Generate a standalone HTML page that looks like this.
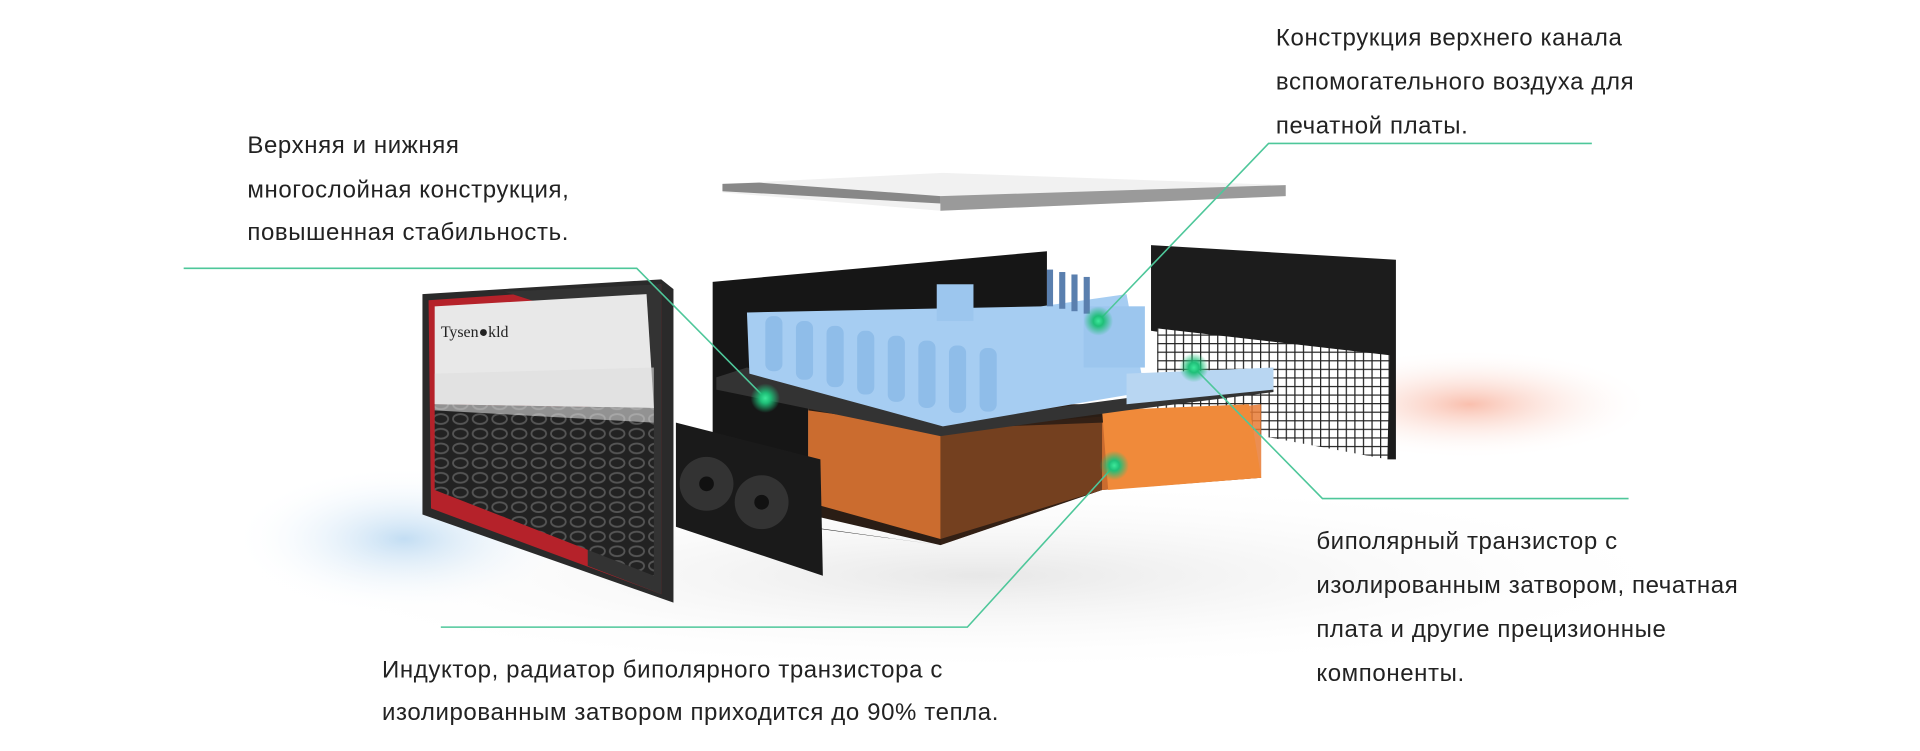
<!DOCTYPE html>
<html><head><meta charset="utf-8"><style>
html,body{margin:0;padding:0;background:#fff;}
svg{display:block}
text{font-family:"Liberation Sans","DejaVu Sans",sans-serif;font-size:19.6px;letter-spacing:.5px;fill:#222;}
</style></head><body>
<svg width="1920" height="751" viewBox="0 0 1568 613" xmlns="http://www.w3.org/2000/svg">
<defs>
<radialGradient id="sh" cx="50%" cy="50%" r="50%"><stop offset="0" stop-color="#ddd" stop-opacity=".7"/><stop offset="1" stop-color="#fff" stop-opacity="0"/></radialGradient>
<radialGradient id="red" cx="50%" cy="50%" r="50%"><stop offset="0" stop-color="#f7a38a" stop-opacity=".7"/><stop offset="1" stop-color="#fff" stop-opacity="0"/></radialGradient>
<radialGradient id="blue" cx="50%" cy="50%" r="50%"><stop offset="0" stop-color="#a9cfee" stop-opacity=".7"/><stop offset="1" stop-color="#fff" stop-opacity="0"/></radialGradient>
<radialGradient id="gl" cx="50%" cy="50%" r="50%"><stop offset="0" stop-color="#3de89a"/><stop offset=".35" stop-color="#1fbf78"/><stop offset="1" stop-color="#1fbf78" stop-opacity="0"/></radialGradient>
<pattern id="grid" width="7" height="7" patternUnits="userSpaceOnUse"><rect width="7" height="7" fill="#fff"/><path d="M0 0H7M0 0V7" stroke="#222" stroke-width="2"/></pattern>
<pattern id="hex" width="16" height="12" patternUnits="userSpaceOnUse"><rect width="16" height="12" fill="#222"/><ellipse cx="8" cy="6" rx="6" ry="4" fill="none" stroke="#555" stroke-width="1.5"/></pattern>
</defs>
<ellipse cx="800" cy="470" rx="600" ry="80" fill="url(#sh)"/>
<ellipse cx="1200" cy="330" rx="150" ry="45" fill="url(#red)"/>
<ellipse cx="330" cy="440" rx="140" ry="60" fill="url(#blue)"/>
<!-- lid -->
<polygon points="590,150 770,141 1050,151 1050,160 768,172 590,157" fill="#f1f1f1"/>
<polygon points="768,160 1050,151 1050,160 768,172" fill="#9a9a9a"/>
<polygon points="590,150 620,149 768,160 768,166 590,156" fill="#888"/>
<!-- back panel right -->
<polygon points="940,200 1140,212 1140,375 1133,375 1133,300 940,270" fill="#1c1c1c"/>
<polygon points="945,268 1135,290 1133,375 945,340" fill="url(#grid)"/>
<!-- main box -->
<polygon points="582,230 855,205 855,290 660,310 660,430 768,445 582,420" fill="#161616"/>
<polygon points="660,330 900,330 1030,390 900,400 768,445 660,420" fill="#2a1d15"/>
<polygon points="660,335 768,350 900,345 1030,330 1030,390 900,400 768,440 660,410" fill="#e87a34" opacity=".85"/>
<polygon points="900,335 1020,330 1030,390 905,400" fill="#f08a3a"/>
<polygon points="768,350 768,445 900,400 900,340" fill="#3a2315" opacity=".6"/>
<!-- board -->
<polygon points="585,308 610,300 770,345 920,325 1040,310 1040,320 920,335 768,356 585,318" fill="#333"/>
<polygon points="610,255 850,250 920,240 935,320 770,348 612,305" fill="#a6cdf2"/>
<g fill="#8fbde9">
<rect x="625" y="258" width="14" height="45" rx="6"/><rect x="650" y="262" width="14" height="48" rx="6"/><rect x="675" y="266" width="14" height="50" rx="6"/><rect x="700" y="270" width="14" height="52" rx="6"/><rect x="725" y="274" width="14" height="54" rx="6"/><rect x="750" y="278" width="14" height="55" rx="6"/><rect x="775" y="282" width="14" height="55" rx="6"/><rect x="800" y="284" width="14" height="52" rx="6"/>
</g>
<rect x="765" y="232" width="30" height="30" fill="#9cc6ee"/>
<rect x="885" y="250" width="50" height="50" fill="#9cc6ee"/>
<g fill="#5a7fae"><rect x="855" y="220" width="5" height="30"/><rect x="865" y="222" width="5" height="30"/><rect x="875" y="224" width="5" height="30"/><rect x="885" y="226" width="5" height="30"/></g>
<polygon points="920,305 1040,300 1040,318 920,330" fill="#b8d6f2"/>
<!-- front panel -->
<polygon points="345,240 540,228 550,236 550,492 345,420" fill="#2a2a2a"/>
<polygon points="350,245 540,232 540,485 352,415" fill="#b5222a"/>
<polygon points="412,238 540,232 540,485 480,462 480,260" fill="#333"/>
<polygon points="355,250 528,240 534,333 355,330" fill="#e8e8e8"/>
<polygon points="355,330 534,333 534,470 355,400" fill="url(#hex)"/>
<polygon points="355,305 534,300 534,345 355,335" fill="#ddd" opacity=".6"/>
<text x="360" y="275" style="font-family:'Liberation Serif',serif;font-size:13px;letter-spacing:0;fill:#222">Tysen●kld</text>
<!-- fans -->
<polygon points="552,345 670,375 672,470 552,430" fill="#1a1a1a"/>
<circle cx="577" cy="395" r="22" fill="#333"/><circle cx="622" cy="410" r="22" fill="#333"/>
<circle cx="577" cy="395" r="6" fill="#111"/><circle cx="622" cy="410" r="6" fill="#111"/>
<!-- connectors -->
<g fill="none" stroke="#4ec79a" stroke-width="1.3">
<polyline points="150,219 520,219 625,325"/>
<polyline points="1300,117 1036,117 897,262"/>
<polyline points="1330,407 1080,407 975,300"/>
<polyline points="360,512 790,512 910,380"/>
</g>
<circle cx="625" cy="325" r="12" fill="url(#gl)"/>
<circle cx="897" cy="262" r="12" fill="url(#gl)"/>
<circle cx="975" cy="300" r="12" fill="url(#gl)"/>
<circle cx="910" cy="380" r="12" fill="url(#gl)"/>
<!-- text -->
<text x="202" y="125">Верхняя и нижняя</text>
<text x="202" y="161">многослойная конструкция,</text>
<text x="202" y="196">повышенная стабильность.</text>
<text x="1042" y="37">Конструкция верхнего канала</text>
<text x="1042" y="73">вспомогательного воздуха для</text>
<text x="1042" y="109">печатной платы.</text>
<text x="1075" y="448">биполярный транзистор с</text>
<text x="1075" y="484">изолированным затвором, печатная</text>
<text x="1075" y="520">плата и другие прецизионные</text>
<text x="1075" y="556">компоненты.</text>
<text x="312" y="553">Индуктор, радиатор биполярного транзистора с</text>
<text x="312" y="588">изолированным затвором приходится до 90% тепла.</text>
</svg>
</body></html>
